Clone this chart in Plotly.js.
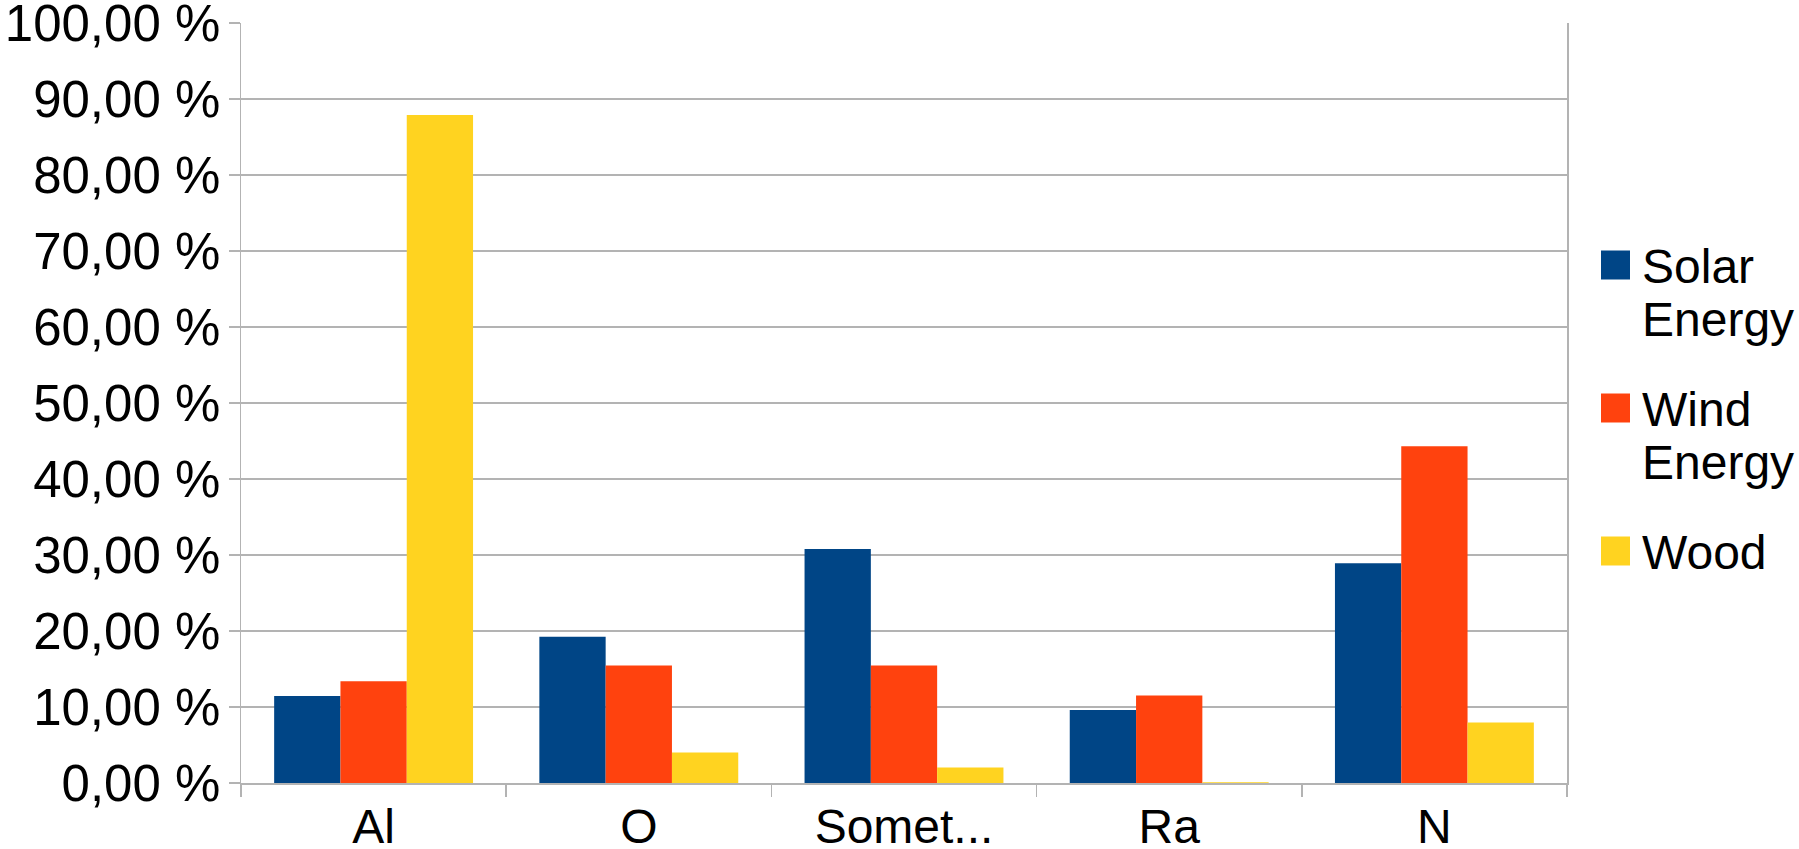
<!DOCTYPE html>
<html>
<head>
<meta charset="utf-8">
<script src="https://cdn.plot.ly/plotly-3.0.1.min.js"></script>
<style>html,body{margin:0;padding:0;background:#fff;}#chart{width:1799px;height:849px;}</style>
</head>
<body>
<div id="chart"></div>
<script>
const categories = ["Al", "O", "Somet...", "Ra", "N"];
const seriesNames = ["Solar Energy", "Wind Energy", "Wood"];
const legendLines = [["Solar", "Energy"], ["Wind", "Energy"], ["Wood"]];
const solar = [11.45, 19.25, 30.8, 9.6, 28.9];
const wind = [13.4, 15.45, 15.45, 11.5, 44.3];
const wood = [87.9, 4.0, 2.05, 0.1, 7.95];
const colors = ["#004586", "#FF420E", "#FFD320"];
const yTicks = [0, 10, 20, 30, 40, 50, 60, 70, 80, 90, 100];
const yTickText = yTicks.map(v => v.toFixed(2).replace(".", ",") + " %");

const W = 1799, H = 849;
const L = 241, R = 1567, T = 23, B = 783;
const px = x => (x - L) / (R - L);
const py = y => (B - y) / (B - T);
const FONT = "Liberation Sans, Arial, sans-serif";

const values = [solar, wind, wood];
const traces = values.map((v, i) => ({
  type: "bar",
  name: seriesNames[i],
  x: categories,
  y: v,
  marker: {color: colors[i], line: {width: 0}},
  hoverinfo: "x+y+name"
}));

const shapes = [];
const annotations = [];
const centers = [265, 408, 551];
legendLines.forEach((lines, i) => {
  const c = centers[i];
  shapes.push({type: "rect", xref: "paper", yref: "paper",
    x0: px(1601), x1: px(1630), y0: py(c + 14.5), y1: py(c - 14.5),
    fillcolor: colors[i], line: {width: 0}});
  lines.forEach((t, j) => {
    annotations.push({xref: "paper", yref: "paper", x: px(1640), y: py(c + 1 + j * 53),
      xanchor: "left", yanchor: "middle", showarrow: false, text: t,
      font: {family: FONT, size: 48, color: "#000"}});
  });
});

const layout = {
  width: W, height: H,
  margin: {l: L, r: W - R, t: T, b: H - B, pad: 0},
  paper_bgcolor: "#fff", plot_bgcolor: "#fff",
  showlegend: false,
  barmode: "group", bargap: 0.25, bargroupgap: 0,
  font: {family: FONT, size: 48, color: "#000"},
  xaxis: {
    type: "category", tickson: "boundaries", ticks: "outside", ticklen: 12,
    tickcolor: "#b3b3b3", tickwidth: 1.5,
    showline: true, linecolor: "#b3b3b3", linewidth: 1.5,
    showgrid: false, zeroline: false,
    tickfont: {family: FONT, size: 48, color: "#000"},
    ticklabelstandoff: 1,
    ticklabeloverflow: "allow"
  },
  yaxis: {
    range: [0, 100], tickmode: "array", tickvals: yTicks, ticktext: yTickText,
    ticks: "outside", ticklen: 11, tickcolor: "#b3b3b3", tickwidth: 1.5,
    showline: true, mirror: true, linecolor: "#b3b3b3", linewidth: 1.5,
    showgrid: true, gridcolor: "#b3b3b3", gridwidth: 1.2,
    zeroline: false,
    tickfont: {family: FONT, size: 51, color: "#000"},
    ticklabelstandoff: -2,
    ticklabeloverflow: "allow"
  },
  shapes: shapes,
  annotations: annotations
};

Plotly.newPlot("chart", traces, layout, {displayModeBar: false, staticPlot: true});
</script>
</body>
</html>
